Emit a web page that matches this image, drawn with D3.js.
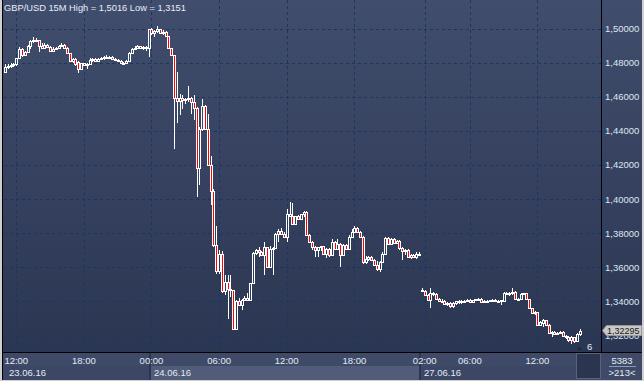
<!DOCTYPE html>
<html><head><meta charset="utf-8">
<script src="https://cdn.jsdelivr.net/npm/d3@7"></script>
<style>
body{margin:0;background:#d0d0d0;}
svg{display:block;}
text{font-family:"Liberation Sans",Arial,sans-serif;}
</style>
</head><body>
<svg id="chart" width="644" height="381"></svg>
<script>
// ---------- DATA (GBP/USD 15M) ----------
const open=[1.4745,1.4775,1.4780,1.4785,1.4790,1.4825,1.4882,1.4845,1.4860,1.4900,1.4925,1.4935,1.4930,1.4895,1.4885,1.4905,1.4890,1.4868,1.4882,1.4886,1.4900,1.4905,1.4885,1.4855,1.4812,1.4820,1.4805,1.4765,1.4795,1.4788,1.4790,1.4815,1.4820,1.4808,1.4822,1.4830,1.4835,1.4826,1.4834,1.4824,1.4815,1.4812,1.4795,1.4800,1.4812,1.4858,1.4880,1.4888,1.4896,1.4885,1.4890,
1.4883,1.5000,1.4971,1.4985,1.4995,1.4976,1.4982,1.4955,1.4883,1.4844,1.4590,1.4575,1.4590,1.4578,1.4585,1.4592,1.4570,1.4535,1.4183,1.4410,1.4546,1.4410,1.4202,1.4046,1.3733,1.3577,1.3680,1.3460,1.3514,1.3475,1.3465,1.3241,
1.3401,1.3381,1.3410,1.3420,1.3410,1.3507,1.3687,1.3700,1.3690,1.3675,1.3719,1.3603,1.3710,1.3712,1.3797,1.3816,1.3795,1.3777,1.3913,1.3903,1.3855,1.3899,1.3884,1.3913,1.3926,1.3791,1.3748,1.3722,1.3700,1.3719,1.3725,1.3681,1.3710,1.3675,1.3748,1.3710,1.3739,1.3675,1.3729,1.3710,1.3777,1.3807,1.3830,1.3810,1.3780,1.3632,1.3650,1.3660,1.3645,1.3615,1.3590,1.3630,1.3680,1.3770,1.3735,1.3765,1.3740,1.3755,1.3714,1.3695,1.3700,1.3660,1.3675,1.3658,1.3681,
1.3470,1.3460,1.3440,1.3410,1.3448,1.3445,1.3415,1.3400,1.3405,1.3383,1.3392,1.3372,1.3394,1.3400,1.3396,1.3404,1.3402,1.3408,1.3398,1.3408,1.3412,1.3414,1.3398,1.3404,1.3400,1.3408,1.3410,1.3404,1.3402,1.3400,1.3452,1.3442,1.3450,1.3458,1.3414,1.3416,1.3445,1.3448,1.3414,1.3361,1.3332,1.3338,1.3263,1.3273,1.3290,1.3263,1.3214,1.3222,1.3212,1.3218,1.3224,1.3200,1.3194,1.3175,1.3190,1.3170,1.3210];
const high=[1.4790,1.4790,1.4795,1.4798,1.4830,1.4890,1.4886,1.4870,1.4905,1.4935,1.4950,1.4945,1.4932,1.4915,1.4915,1.4910,1.4895,1.4890,1.4890,1.4905,1.4915,1.4908,1.4890,1.4858,1.4830,1.4825,1.4808,1.4800,1.4800,1.4800,1.4825,1.4830,1.4826,1.4828,1.4835,1.4840,1.4845,1.4838,1.4836,1.4828,1.4822,1.4815,1.4806,1.4818,1.4862,1.4885,1.4895,1.4902,1.4900,1.4898,1.4900,
1.5000,1.5002,1.4990,1.5016,1.5000,1.4990,1.4985,1.4958,1.4886,1.4846,1.4746,1.4619,1.4609,1.4590,1.4664,1.4600,1.4609,1.4540,1.4420,1.4586,1.4550,1.4500,1.4253,1.4060,1.3843,1.3700,1.3694,1.3553,1.3553,1.3553,1.3470,1.3410,
1.3420,1.3415,1.3430,1.3449,1.3510,1.3690,1.3710,1.3719,1.3695,1.3748,1.3722,1.3725,1.3720,1.3800,1.3826,1.3830,1.3810,1.3942,1.3981,1.3975,1.3900,1.3905,1.3915,1.3932,1.3930,1.3795,1.3752,1.3725,1.3720,1.3728,1.3728,1.3715,1.3715,1.3768,1.3755,1.3768,1.3742,1.3735,1.3735,1.3787,1.3826,1.3840,1.3836,1.3815,1.3785,1.3665,1.3665,1.3668,1.3650,1.3640,1.3635,1.3690,1.3780,1.3780,1.3770,1.3770,1.3760,1.3758,1.3720,1.3705,1.3705,1.3680,1.3680,1.3690,1.3690,
1.3480,1.3465,1.3445,1.3477,1.3455,1.3448,1.3420,1.3412,1.3408,1.3396,1.3395,1.3398,1.3405,1.3408,1.3406,1.3410,1.3412,1.3412,1.3410,1.3416,1.3420,1.3418,1.3406,1.3408,1.3410,1.3416,1.3414,1.3410,1.3410,1.3455,1.3456,1.3455,1.3477,1.3460,1.3420,1.3448,1.3450,1.3450,1.3416,1.3364,1.3345,1.3340,1.3285,1.3296,1.3292,1.3270,1.3226,1.3226,1.3224,1.3228,1.3226,1.3206,1.3198,1.3198,1.3194,1.3214,1.3236];
const low=[1.4740,1.4765,1.4770,1.4775,1.4780,1.4820,1.4835,1.4840,1.4855,1.4880,1.4915,1.4920,1.4862,1.4878,1.4880,1.4885,1.4862,1.4865,1.4875,1.4880,1.4895,1.4880,1.4852,1.4805,1.4800,1.4780,1.4740,1.4760,1.4785,1.4765,1.4785,1.4805,1.4805,1.4805,1.4815,1.4815,1.4825,1.4820,1.4822,1.4808,1.4805,1.4790,1.4790,1.4798,1.4808,1.4855,1.4875,1.4880,1.4880,1.4876,1.4870,
1.4834,1.4960,1.4951,1.4975,1.4970,1.4960,1.4948,1.4880,1.4840,1.4296,1.4449,1.4492,1.4530,1.4555,1.4570,1.4501,1.4462,1.4013,1.4085,1.4400,1.4405,1.4195,1.3964,1.3720,1.3560,1.3560,1.3450,1.3440,1.3299,1.3426,1.3231,1.3235,
1.3375,1.3352,1.3400,1.3405,1.3400,1.3500,1.3675,1.3661,1.3670,1.3555,1.3600,1.3600,1.3555,1.3705,1.3748,1.3790,1.3770,1.3748,1.3900,1.3850,1.3850,1.3880,1.3880,1.3895,1.3785,1.3745,1.3700,1.3661,1.3661,1.3695,1.3671,1.3652,1.3661,1.3670,1.3705,1.3705,1.3603,1.3665,1.3705,1.3705,1.3770,1.3800,1.3805,1.3775,1.3620,1.3620,1.3635,1.3640,1.3610,1.3580,1.3570,1.3625,1.3675,1.3730,1.3730,1.3735,1.3735,1.3700,1.3642,1.3675,1.3655,1.3650,1.3655,1.3650,1.3670,
1.3455,1.3435,1.3405,1.3361,1.3430,1.3410,1.3395,1.3390,1.3380,1.3375,1.3361,1.3361,1.3382,1.3386,1.3388,1.3396,1.3398,1.3395,1.3395,1.3400,1.3404,1.3396,1.3392,1.3396,1.3396,1.3402,1.3398,1.3392,1.3381,1.3396,1.3438,1.3432,1.3440,1.3410,1.3408,1.3412,1.3436,1.3410,1.3358,1.3330,1.3320,1.3255,1.3255,1.3253,1.3258,1.3210,1.3194,1.3208,1.3205,1.3208,1.3195,1.3180,1.3160,1.3151,1.3158,1.3165,1.3200];
const close=[1.4775,1.4780,1.4785,1.4790,1.4825,1.4882,1.4845,1.4860,1.4900,1.4925,1.4935,1.4930,1.4895,1.4885,1.4905,1.4890,1.4868,1.4882,1.4886,1.4900,1.4905,1.4885,1.4855,1.4812,1.4820,1.4790,1.4765,1.4795,1.4788,1.4790,1.4815,1.4820,1.4808,1.4822,1.4830,1.4835,1.4826,1.4834,1.4824,1.4815,1.4810,1.4795,1.4800,1.4812,1.4858,1.4880,1.4888,1.4896,1.4885,1.4890,1.4883,
1.5000,1.4971,1.4985,1.4995,1.4976,1.4982,1.4955,1.4883,1.4844,1.4590,1.4575,1.4590,1.4578,1.4585,1.4592,1.4570,1.4535,1.4183,1.4410,1.4546,1.4410,1.4202,1.4046,1.3733,1.3577,1.3680,1.3460,1.3514,1.3475,1.3465,1.3241,1.3401,
1.3381,1.3410,1.3420,1.3410,1.3507,1.3687,1.3700,1.3690,1.3675,1.3719,1.3603,1.3710,1.3712,1.3797,1.3816,1.3795,1.3777,1.3913,1.3903,1.3855,1.3899,1.3884,1.3913,1.3926,1.3791,1.3748,1.3722,1.3700,1.3719,1.3725,1.3681,1.3710,1.3675,1.3748,1.3710,1.3739,1.3675,1.3729,1.3710,1.3777,1.3807,1.3830,1.3810,1.3780,1.3632,1.3650,1.3660,1.3645,1.3615,1.3590,1.3630,1.3680,1.3770,1.3735,1.3765,1.3740,1.3755,1.3714,1.3695,1.3700,1.3660,1.3675,1.3658,1.3681,1.3680,
1.3460,1.3440,1.3410,1.3448,1.3445,1.3415,1.3400,1.3405,1.3383,1.3392,1.3372,1.3394,1.3400,1.3396,1.3404,1.3402,1.3408,1.3398,1.3408,1.3412,1.3414,1.3398,1.3404,1.3400,1.3408,1.3410,1.3404,1.3402,1.3408,1.3452,1.3442,1.3450,1.3458,1.3414,1.3416,1.3445,1.3448,1.3414,1.3361,1.3332,1.3338,1.3263,1.3280,1.3290,1.3263,1.3214,1.3222,1.3212,1.3218,1.3224,1.3200,1.3194,1.3175,1.3190,1.3170,1.3210,1.32295];

const priceTicks=[1.50,1.48,1.46,1.44,1.42,1.40,1.38,1.36,1.34,1.32];
const timeTickIndex=[4,28,52,76,100,124,149,165,189];
const timeTickLabels=["12:00","18:00","00:00","06:00","12:00","18:00","02:00","06:00","12:00"];
const dayLabels=["23.06.16","24.06.16","27.06.16"];
const dayStartIndex=[0,52,148];
const titleText="GBP/USD 15M High = 1,5016 Low = 1,3151";
const lastPrice=1.32295;
const barCountText="5383";
const visibleBarsText=">213<";
const countdownText="6";

// ---------- LAYOUT ----------
const W=644,H=381;
const plotL=3, plotR=601, plotB=352;
const svg=d3.select("#chart");
const defs=svg.append("defs");
const grad=defs.append("linearGradient").attr("id","bg").attr("x1",0).attr("y1",0).attr("x2",0).attr("y2",1);
grad.append("stop").attr("offset","0%").attr("stop-color","#404d6c");
grad.append("stop").attr("offset","100%").attr("stop-color","#2b3652");

svg.append("rect").attr("width",W).attr("height",H).attr("fill","#d0d0d0");
svg.append("rect").attr("x",plotL).attr("y",0).attr("width",642-plotL).attr("height",plotB).attr("fill","url(#bg)");

const n=close.length;
const x=d3.scaleLinear().domain([0,n-1]).range([5,579.7]);
const y=d3.scaleLinear().domain([1.32,1.50]).range([335.6,28.5]);
const fmt=v=>d3.format(".5f")(v).replace(".",",");

// grid
const grid=svg.append("g");
priceTicks.forEach(v=>{
  const yy=Math.round(y(v))+0.5;
  grid.append("line").attr("x1",plotL+1).attr("x2",plotR).attr("y1",yy).attr("y2",yy)
    .attr("stroke","#1a3663").attr("stroke-dasharray","3,3");
});
timeTickIndex.forEach(i=>{
  const xx=Math.round(x(i))+0.5;
  grid.append("line").attr("x1",xx).attr("x2",xx).attr("y1",0).attr("y2",plotB)
    .attr("stroke","#1a3663").attr("stroke-dasharray","3,3");
});

// candles
const cg=svg.append("g");
for(let i=0;i<n;i++){
  const cx=Math.round(x(i));
  const o=open[i],c=close[i],h=high[i],l=low[i];
  const top=Math.round(y(Math.max(o,c))), bot=Math.round(y(Math.min(o,c)));
  const yh=Math.round(y(h)), yl=Math.round(y(l));
  const bh=Math.max(bot-top,1);
  if(top-yh>0) cg.append("rect").attr("x",cx).attr("y",yh).attr("width",1).attr("height",top-yh).attr("fill","#fff");
  if(yl-(top+bh+1)>0) cg.append("rect").attr("x",cx).attr("y",top+bh+1).attr("width",1).attr("height",yl-(top+bh+1)).attr("fill","#fff");
  cg.append("rect").attr("x",cx-0.5).attr("y",top+0.5).attr("width",2).attr("height",bh)
    .attr("fill",c<o?"#ff0000":"none").attr("stroke","#fff").attr("stroke-width",1);
}

// separators
svg.append("line").attr("x1",plotL-0.5).attr("x2",plotL-0.5).attr("y1",0).attr("y2",380).attr("stroke","#000");
svg.append("line").attr("x1",plotR+0.5).attr("x2",plotR+0.5).attr("y1",0).attr("y2",380).attr("stroke","#000");

// bottom axis panel
const bp=svg.append("g");
bp.append("rect").attr("x",plotL).attr("y",plotB+1).attr("width",642-plotL).attr("height",380-plotB-1).attr("fill","#3e4a67");
const segX=dayStartIndex.map((d,k)=>k===0?plotL:Math.round(x(d)-1.5));
const segEnd=576;
dayLabels.forEach((lab,k)=>{
  const x0=segX[k], x1=k<dayLabels.length-1?segX[k+1]:segEnd;
  bp.append("rect").attr("x",x0).attr("y",366).attr("width",x1-x0).attr("height",14)
    .attr("fill",k%2===1?"#505c78":"#3b4764");
  if(k>0) bp.append("rect").attr("x",x0-1).attr("y",plotB+1).attr("width",2).attr("height",380-plotB-1).attr("fill","#2c3650");
  bp.append("text").attr("x",x0+(k===0?6:4)).attr("y",375.5).attr("font-size",9.5).attr("fill","#e4eaf6").text(lab);
});
timeTickIndex.forEach((i,k)=>{
  bp.append("text").attr("x",x(i)).attr("y",363.5).attr("text-anchor","middle").attr("font-size",9.5).attr("fill","#e4eaf6").text(timeTickLabels[k]);
});
bp.append("rect").attr("x",576.5).attr("y",353.5).attr("width",24).attr("height",25).attr("fill","#2b3550").attr("stroke","#56627e");
svg.append("line").attr("x1",plotL).attr("x2",642).attr("y1",plotB+0.5).attr("y2",plotB+0.5).attr("stroke","#000");

// right axis
const ra=svg.append("g");
priceTicks.forEach(v=>{
  ra.append("text").attr("x",605).attr("y",y(v)+3.5).attr("font-size",9.5).attr("fill","#dfe6f4").text(fmt(v));
});
const ty=y(lastPrice);
ra.append("path").attr("d",`M602.5,${ty} L606.5,${ty-5} L641.5,${ty-5} L641.5,${ty+5} L606.5,${ty+5} Z`)
  .attr("fill","#c9c9c9").attr("stroke","#9a9a9a");
ra.append("text").attr("x",607).attr("y",ty+3.3).attr("font-size",9).attr("fill","#1a1a1a").text(fmt(lastPrice));

// bottom right
ra.append("text").attr("x",622).attr("y",363.5).attr("text-anchor","middle").attr("font-size",9.5).attr("fill","#e4eaf6").text(barCountText);
ra.append("line").attr("x1",609).attr("x2",636).attr("y1",366.5).attr("y2",366.5).attr("stroke","#8d99b4");
ra.append("text").attr("x",622).attr("y",375.5).attr("text-anchor","middle").attr("font-size",9.5).attr("fill","#e4eaf6").text(visibleBarsText);

// countdown
svg.append("path").attr("d","M577,350 L579.5,346.5 L582,350 Z").attr("fill","#20283a");
svg.append("text").attr("x",587).attr("y",349.5).attr("font-size",9.5).attr("fill","#e4eaf6").text(countdownText);

// title
svg.append("text").attr("x",4).attr("y",11).attr("font-size",9.3).attr("fill","#e8eef8").text(titleText);
</script>
</body></html>
